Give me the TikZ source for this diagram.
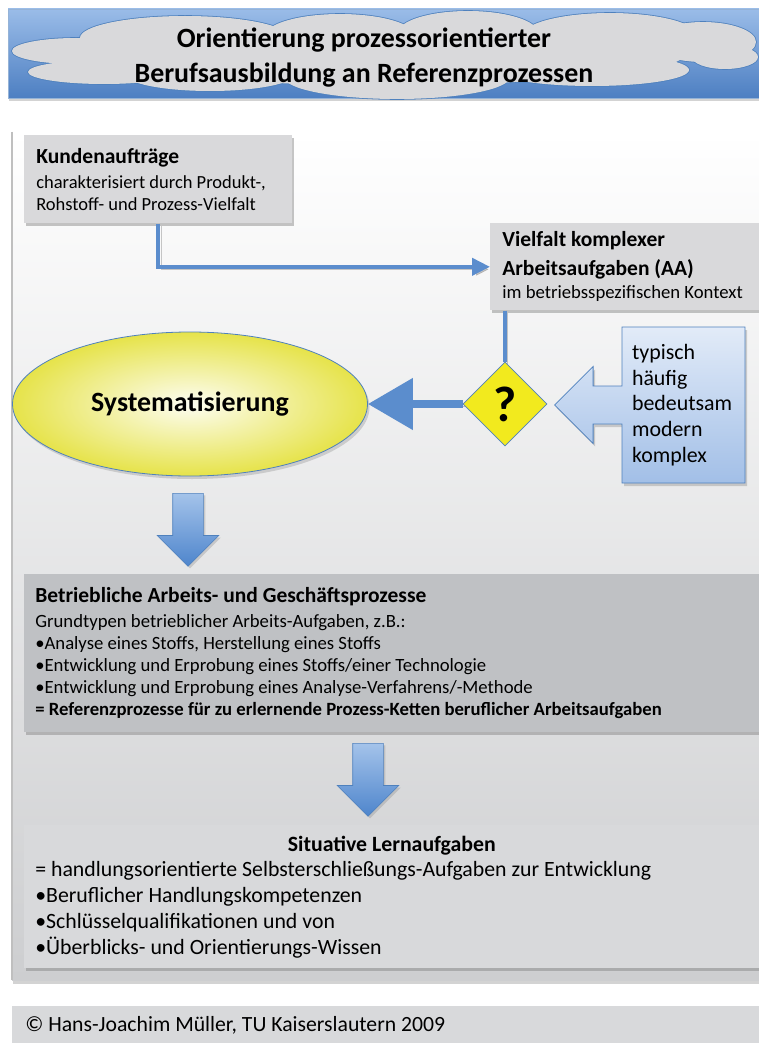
\documentclass[tikz,border=0pt]{standalone}
\usepackage{fontspec}
\setmainfont{Carlito}
\usepackage{tikz}
\usetikzlibrary{arrows.meta,shapes.geometric,shapes.arrows,shadows}
\setlength{\parindent}{0pt}

\definecolor{bannertop}{HTML}{9ABCE8}
\definecolor{bannerbot}{HTML}{4D7FC2}
\definecolor{cloudgray}{HTML}{D9D9DB}
\definecolor{lineblue}{HTML}{5B8DCD}
\definecolor{edgeblue}{HTML}{4F81BD}
\definecolor{boxgray}{HTML}{D9D9DB}
\definecolor{procgray}{HTML}{BFC1C4}
\definecolor{lerngray}{HTML}{D8D9DB}
\definecolor{panelbot}{HTML}{CDCED0}
\definecolor{qyellow}{HTML}{F2EA1E}
\definecolor{ellin}{HTML}{FDFDF2}
\definecolor{ellout}{HTML}{E6E34A}
\definecolor{calltop}{HTML}{E2EBF8}
\definecolor{callbot}{HTML}{A2BFE7}
\definecolor{arrtop}{HTML}{A4C3EA}
\definecolor{arrbot}{HTML}{4E85CC}

\newcommand{\fs}[2]{\fontsize{#1}{#2}\selectfont}

\begin{document}
\begin{tikzpicture}[x=1pt,y=1pt,>={Triangle[length=18pt,width=17pt]},
        semithick]
        \tikzstyle{infobox}=[rectangle, anchor=north west, align=left, inner xsep=12pt,
            inner ysep=0pt, execute at begin node={\spaceskip=0pt\xspaceskip=0pt},
            drop shadow={shadow xshift=2pt,shadow yshift=-3pt,opacity=.45}]
        \tikzstyle{conn}=[draw=lineblue, line width=4pt,
            preaction={draw=black!60, opacity=.35, transform canvas={shift={(2.5pt,-2.5pt)}}}]
        \tikzstyle{blockdown}=[single arrow, shape border rotate=270, inner sep=15pt,
            single arrow head extend=15.5pt, minimum height=73pt, anchor=tail,
            top color=arrtop, bottom color=arrbot, draw=edgeblue, line width=.6pt,
            drop shadow={shadow xshift=2pt,shadow yshift=-2pt,opacity=.3}]

        \useasboundingbox (0,0) rectangle (759,-1043);

        % banner with cloud
        \shade[top color=bannertop, bottom color=bannerbot, draw=edgeblue!60,
            drop shadow={shadow xshift=1pt,shadow yshift=-3pt,opacity=.35}] (8,-9) rectangle (759,-98);
        \foreach \cx/\cy/\rx/\ry in {76/51/64/13, 104/72/76/12, 185/38/105/22, 340/36/75/22,
            468/33/70/22, 610/36/88/23, 703/42/53/20, 725/57/33/12, 592/70/97/16,
            397/77/113/22, 210/74/85/17, 384/55/300/30}
            \draw[edgeblue, line width=1.6pt] (\cx,-\cy) ellipse [x radius=\rx, y radius=\ry];
        \foreach \cx/\cy/\rx/\ry in {76/51/64/13, 104/72/76/12, 185/38/105/22, 340/36/75/22,
            468/33/70/22, 610/36/88/23, 703/42/53/20, 725/57/33/12, 592/70/97/16,
            397/77/113/22, 210/74/85/17, 384/55/300/30}
            \fill[cloudgray] (\cx,-\cy) ellipse [x radius=\rx, y radius=\ry];
        \node[font=\bfseries\fs{27.9}{35}, align=center] (T) at (364,-58)
            {Orientierung prozessorientierter\\Berufsausbildung an Referenzprozessen};

        % panel
        \shade[top color=white, bottom color=panelbot,
            drop shadow={shadow xshift=1pt,shadow yshift=-4pt,opacity=.35}] (12,-132) rectangle (759,-980);
        \draw[black!25, line width=1.2pt] (12,-132) -- (12,-980);

        \node[infobox, fill=boxgray, minimum width=268pt, minimum height=88pt, text width=244pt,
            font=\fs{18.5}{21.5}] (K) at (24,-135)
            {{\bfseries\fs{21.5}{21.5}Kundenaufträge}\\[4pt]charakterisiert durch Produkt-,\\Rohstoff- und Prozess-Vielfalt};
        \node[infobox, fill=boxgray, minimum width=268pt, minimum height=87pt, text width=246pt,
            font=\fs{18.7}{23}] (V) at (490,-223)
            {{\bfseries\fs{21.5}{23}Vielfalt komplexer\\[6pt]Arbeitsaufgaben (AA)}\\im betriebsspezifischen Kontext};

        \draw[conn, ->] (K.south) |- (V.west);

        \node[diamond, fill=qyellow, draw=edgeblue, line width=.8pt, minimum width=84pt,
            minimum height=84pt, inner sep=0pt, font=\bfseries\fs{50}{50}] (Q) at (505,-404) {?};
        \draw[conn] (V.south -| Q.north) -- (Q.north);

        \node[ellipse, inner color=ellin, outer color=ellout, draw=edgeblue, line width=.8pt,
            minimum width=355pt, minimum height=144pt, font=\bfseries\fs{27.9}{30},
            drop shadow={shadow xshift=2pt,shadow yshift=-3pt,opacity=.3}] (S) at (190,-404) {Systematisierung};
        \draw[conn, line width=8pt, -{Triangle[length=45pt,width=50pt]}] (Q.west) -- (S.east);

        \node[arrow box, arrow box arrows={west:67pt}, arrow box shaft width=38pt,
            arrow box head extend=19.5pt, minimum width=123pt, minimum height=156pt,
            text width=103pt, inner xsep=10pt, align=left, top color=calltop, bottom color=callbot,
            draw=edgeblue, line width=.8pt, font=\fs{21.9}{25.7},
            execute at begin node={\spaceskip=0pt\xspaceskip=0pt},
            drop shadow={shadow xshift=2pt,shadow yshift=-3pt,opacity=.35}] (A) at (683.5,-405)
            {typisch\\häufig\\bedeutsam\\modern\\komplex};

        \node[blockdown] (D1) at (188,-493) {};

        \node[infobox, fill=procgray, minimum width=735pt, minimum height=158pt, text width=713pt,
            inner xsep=11pt, font=\fs{18.7}{22}] (B) at (24,-574)
            {{\bfseries\fs{21.5}{22}Betriebliche Arbeits- und Geschäftsprozesse}\\[3pt]
            Grundtypen betrieblicher Arbeits-Aufgaben, z.B.:\\
            •Analyse eines Stoffs, Herstellung eines Stoffs\\
            •Entwicklung und Erprobung eines Stoffs/einer Technologie\\
            •Entwicklung und Erprobung eines Analyse-Verfahrens/-Methode\\
            {\bfseries = Referenzprozesse für zu erlernende Prozess-Ketten beruflicher Arbeitsaufgaben}};

        \node[blockdown] (D2) at (368,-743) {};

        \node[infobox, fill=lerngray, minimum width=735pt, minimum height=143pt, text width=713pt,
            inner xsep=11pt, font=\fs{21.8}{25.7}] (L) at (24,-825)
            {\makebox[713pt]{\bfseries Situative Lernaufgaben}\\
            = handlungsorientierte Selbsterschließungs-Aufgaben zur Entwicklung\\
            •Beruflicher Handlungskompetenzen\\
            •Schlüsselqualifikationen und von\\
            •Überblicks- und Orientierungs-Wissen};

        % footer
        \node[infobox, fill=lerngray, minimum width=747pt, minimum height=38pt, text width=721pt,
            inner xsep=13pt, font=\fs{21.7}{24}] (F) at (12,-1006)
            {© Hans-Joachim Müller, TU Kaiserslautern 2009};
\end{tikzpicture}
\end{document}
